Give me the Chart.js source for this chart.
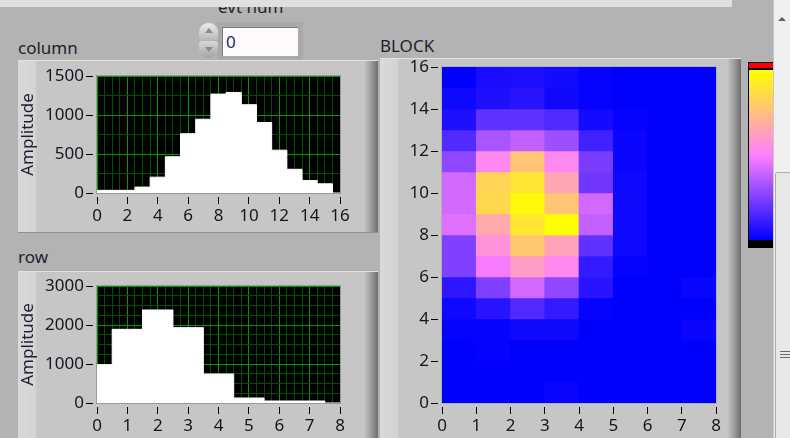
<!DOCTYPE html>
<html>
<head>
<meta charset="utf-8">
<script src="https://cdn.jsdelivr.net/npm/chart.js@4"></script>
<style>
  html, body { margin: 0; padding: 0; }
  body { width: 790px; height: 438px; overflow: hidden; position: relative; background: #b4b3b4; font-family: "Noto Sans", sans-serif; }
  .abs { position: absolute; }
  .frame { position: absolute; border-top: 1px solid #e2e2e2;
    background: linear-gradient(to right, #d9d9d9 0, #d4d4d4 17px, #c6c6c6 19px, #c6c6c6 calc(100% - 14px), #a4a4a4 calc(100% - 8px), #6e6e6e 100%); }
  .lbl { position: absolute; font-size: 17px; line-height: 17px; color: #1e1e2e; white-space: nowrap; }
  canvas { position: absolute; }
</style>
</head>
<body>
<div class="lbl" style="left:218px;top:-2px">evt num</div>
<div class="abs" style="left:0;top:0;width:732px;height:7px;background:#e0e0e0;z-index:5"></div>

<div class="abs" style="left:217px;top:22px;width:86px;height:38px;background:#a9a9a9"></div>
<div class="abs" style="left:222px;top:27px;width:75px;height:28px;background:#fdf9fd;border-top:1px solid #7a7a7a;border-left:1px solid #7a7a7a"></div>
<div class="lbl" style="left:226px;top:33px;color:#16306a">0</div>
<div class="abs" style="left:199px;top:23px;width:19px;height:17px;border-radius:9px 9px 3px 3px;background:linear-gradient(#ececec,#b8b8b8)"></div>
<div class="abs" style="left:199px;top:41px;width:19px;height:17px;border-radius:3px 3px 9px 9px;background:linear-gradient(#d8d8d8,#a4a4a4)"></div>
<div class="abs" style="left:205px;top:28px;width:0;height:0;border-left:4px solid transparent;border-right:4px solid transparent;border-bottom:5px solid #8a8a8a"></div>
<div class="abs" style="left:205px;top:47px;width:0;height:0;border-left:4px solid transparent;border-right:4px solid transparent;border-top:5px solid #8a8a8a"></div>

<div class="lbl" style="left:18px;top:39px">column</div>
<div class="frame" style="left:18px;top:60px;width:360px;height:171px;border-bottom:1px solid #8e8e8e"></div>
<canvas id="colChart" width="350" height="172" style="left:18px;top:62px"></canvas>

<div class="lbl" style="left:18px;top:248px">row</div>
<div class="frame" style="left:18px;top:271px;width:360px;height:180px"></div>
<canvas id="rowChart" width="350" height="166" style="left:18px;top:272px"></canvas>

<div class="lbl" style="left:380px;top:37px">BLOCK</div>
<div class="frame" style="left:380px;top:58px;width:361px;height:400px"></div>
<canvas id="blockChart" width="350" height="388" style="left:382px;top:50px"></canvas>

<div class="abs" style="left:748px;top:62px;width:25px;height:186px;background:#000">
  <div class="abs" style="left:1px;top:1px;right:0;height:5px;background:#ff0000"></div>
  <div id="ramp" class="abs" style="left:1px;top:8px;right:0;height:170px"></div>
</div>

<div class="abs" style="left:773px;top:0;width:17px;height:438px;background:#f0f0f0;border-left:1px solid #c8c8c8"></div>
<div class="abs" style="left:778px;top:17px;width:0;height:0;border-left:4px solid transparent;border-right:4px solid transparent;border-bottom:4px solid #606060"></div>
<div class="abs" style="left:775px;top:172px;width:14px;height:270px;background:#e8e8e8;border:1px solid #adadad;border-radius:2px"></div>
<div class="abs" style="left:780px;top:351px;width:10px;height:1px;background:#6a6a6a"></div>
<div class="abs" style="left:780px;top:354px;width:10px;height:1px;background:#6a6a6a"></div>
<div class="abs" style="left:780px;top:357px;width:10px;height:1px;background:#6a6a6a"></div>

<script>
// histogram "column": amplitude per bin 0..16
const COLUMN_X = [0, 1, 2, 3, 4, 5, 6, 7, 8, 9, 10, 11, 12, 13, 14, 15, 16];
const COLUMN_AMP = [34, 34, 34, 76, 203, 465, 760, 946, 1268, 1289, 1132, 904, 549, 304, 160, 118, 0];

// histogram "row": amplitude per bin 0..8
const ROW_X = [0, 1, 2, 3, 4, 5, 6, 7, 8];
const ROW_AMP = [983, 1889, 2385, 1932, 744, 128, 51, 51, 0];

// BLOCK intensity, one list per y row (bottom to top), 8 columns each
const BLOCK_X = [0, 1, 2, 3, 4, 5, 6, 7];
const BLOCK_Y = [0, 1, 2, 3, 4, 5, 6, 7, 8, 9, 10, 11, 12, 13, 14, 15];
const BLOCK_Z = [
  [0, 0, 0, 8, 0, 0, 0, 0],
  [0, 0, 0, 0, 0, 0, 0, 0],
  [0, 4, 0, 0, 0, 0, 0, 0],
  [4, 4, 12, 12, 0, 0, 0, 8],
  [12, 32, 64, 40, 4, 0, 0, 0],
  [36, 100, 164, 112, 32, 0, 0, 8],
  [100, 192, 248, 212, 40, 4, 0, 0],
  [100, 228, 312, 256, 76, 12, 0, 0],
  [176, 264, 360, 400, 152, 12, 0, 0],
  [164, 340, 392, 308, 164, 12, 0, 0],
  [164, 332, 360, 260, 88, 12, 0, 0],
  [112, 212, 308, 212, 96, 8, 0, 0],
  [64, 132, 152, 124, 52, 8, 0, 0],
  [24, 76, 76, 64, 16, 4, 0, 0],
  [12, 24, 32, 12, 4, 0, 0, 0],
  [0, 20, 24, 16, 4, 0, 0, 0]
];
const Z_MAX = 400;
const RAMP = [[0, [0, 0, 255]], [0.5, [255, 128, 255]], [1, [255, 255, 0]]];

const TEXT = "#151520";
const GRID_MAJOR = "#009a00";
const GRID_MINOR = "#005000";
const FONT = { family: "'Noto Sans', sans-serif", size: 17 };

function rampColor(v) {
  const t = Math.max(0, Math.min(1, v / Z_MAX));
  for (let i = 1; i < RAMP.length; i++) {
    const [t1, c1] = RAMP[i];
    const [t0, c0] = RAMP[i - 1];
    if (t <= t1) {
      const f = (t - t0) / (t1 - t0);
      const c = c0.map((a, k) => Math.round(a + (c1[k] - a) * f));
      return `rgb(${c[0]},${c[1]},${c[2]})`;
    }
  }
  return "rgb(255,255,0)";
}

document.getElementById("ramp").style.background =
  "linear-gradient(to top," + RAMP.map(([t, c]) => `rgb(${c.join(",")}) ${t * 100}%`).join(",") + ")";

function isMajor(v, m) {
  return Math.abs(v / m - Math.round(v / m)) < 1e-6;
}

const plotBg = {
  id: "plotBg",
  beforeDraw(chart, args, opts) {
    const { ctx, chartArea: a } = chart;
    if (opts.color) {
      ctx.save();
      ctx.fillStyle = opts.color;
      ctx.fillRect(a.left, a.top, a.width, a.height);
      ctx.restore();
    }
  },
  afterDatasetsDraw(chart, args, opts) {
    const { ctx, chartArea: a } = chart;
    ctx.save();
    ctx.strokeStyle = opts.frame || "#a0a0a0";
    ctx.lineWidth = 1;
    ctx.strokeRect(Math.round(a.left) - 0.5, Math.round(a.top) - 0.5, Math.round(a.width) + 1, Math.round(a.height) + 1);
    ctx.restore();
  }
};

function histogram(id, xs, ys, cfg) {
  return new Chart(document.getElementById(id), {
    type: "line",
    data: {
      datasets: [{
        data: xs.map((x, i) => ({ x, y: ys[i] })),
        stepped: "middle",
        fill: "origin",
        backgroundColor: "#ffffff",
        borderColor: "#ffffff",
        borderWidth: 1,
        pointRadius: 0
      }]
    },
    plugins: [plotBg],
    options: {
      responsive: false,
      animation: false,
      layout: { padding: { left: 0, top: 14, right: 28, bottom: 0 } },
      plugins: { legend: { display: false }, tooltip: { enabled: false }, plotBg: { color: "#000000", frame: "#9a9a9a" } },
      scales: {
        x: {
          type: "linear", min: 0, max: cfg.xMax,
          afterFit: (s) => { s.height = cfg.xHeight; },
          border: { display: false },
          grid: {
            color: (c) => (isMajor(c.tick.value, cfg.xMajor) ? GRID_MAJOR : GRID_MINOR),
            tickColor: (c) => (isMajor(c.tick.value, cfg.xMajor) ? "#000000" : "rgba(0,0,0,0)"),
            tickLength: 11, tickBorderDash: [7, 4], tickBorderDashOffset: 7
          },
          ticks: {
            stepSize: cfg.xStep, maxTicksLimit: 200, autoSkip: false, maxRotation: 0, padding: 2,
            color: TEXT, font: FONT,
            callback: (v) => (isMajor(v, cfg.xMajor) ? String(v) : "")
          }
        },
        y: {
          min: 0, max: cfg.yMax,
          afterFit: (s) => { s.width = 79; },
          border: { display: false },
          title: { display: true, text: "Amplitude", color: "#1e1e2e", font: FONT, padding: 0 },
          grid: {
            color: (c) => (isMajor(c.tick.value, cfg.yMajor) ? GRID_MAJOR : GRID_MINOR),
            tickColor: (c) => (isMajor(c.tick.value, cfg.yMajor) ? "#000000" : "rgba(0,0,0,0)"),
            tickLength: 11, tickBorderDash: [7, 4]
          },
          ticks: {
            stepSize: cfg.yStep, maxTicksLimit: 200, autoSkip: false, padding: 2,
            color: TEXT, font: FONT,
            callback: (v) => (isMajor(v, cfg.yMajor) ? String(v) : "")
          }
        }
      }
    }
  });
}

histogram("colChart", COLUMN_X, COLUMN_AMP, { xMax: 16, xStep: 0.5, xMajor: 2, yMax: 1500, yStep: 250, yMajor: 500, xHeight: 41 });
histogram("rowChart", ROW_X, ROW_AMP, { xMax: 8, xStep: 0.25, xMajor: 1, yMax: 3000, yStep: 250, yMajor: 1000, xHeight: 35 });

// BLOCK as floating bars, one per cell
const cells = [];
const cellColors = [];
BLOCK_Y.forEach((y, r) => {
  BLOCK_X.forEach((x, c) => {
    cells.push({ x: x + 0.5, y: [y, y + 1] });
    cellColors.push(rampColor(BLOCK_Z[r][c]));
  });
});

new Chart(document.getElementById("blockChart"), {
  type: "bar",
  data: {
    datasets: [{
      data: cells,
      backgroundColor: cellColors,
      borderWidth: 0,
      barPercentage: 1,
      categoryPercentage: 1
    }]
  },
  plugins: [plotBg],
  options: {
    responsive: false,
    animation: false,
    layout: { padding: { left: 0, top: 17, right: 16, bottom: 0 } },
    plugins: { legend: { display: false }, tooltip: { enabled: false }, plotBg: { color: "#0000ff", frame: "#b0b0b0" } },
    scales: {
      x: {
        type: "linear", min: 0, max: 8, offset: false,
        afterFit: (s) => { s.height = 35; },
        border: { display: false },
        grid: { offset: false, drawOnChartArea: false, tickColor: "#000000", tickLength: 11, tickBorderDash: [7, 4], tickBorderDashOffset: 7 },
        ticks: { stepSize: 1, autoSkip: false, maxRotation: 0, padding: 2, color: TEXT, font: FONT }
      },
      y: {
        min: 0, max: 16,
        afterFit: (s) => { s.width = 60; },
        border: { display: false },
        grid: { drawOnChartArea: false, tickColor: "#000000", tickLength: 11, tickBorderDash: [7, 4] },
        ticks: { stepSize: 2, autoSkip: false, padding: 2, color: TEXT, font: FONT }
      }
    }
  }
});
</script>
</body>
</html>
